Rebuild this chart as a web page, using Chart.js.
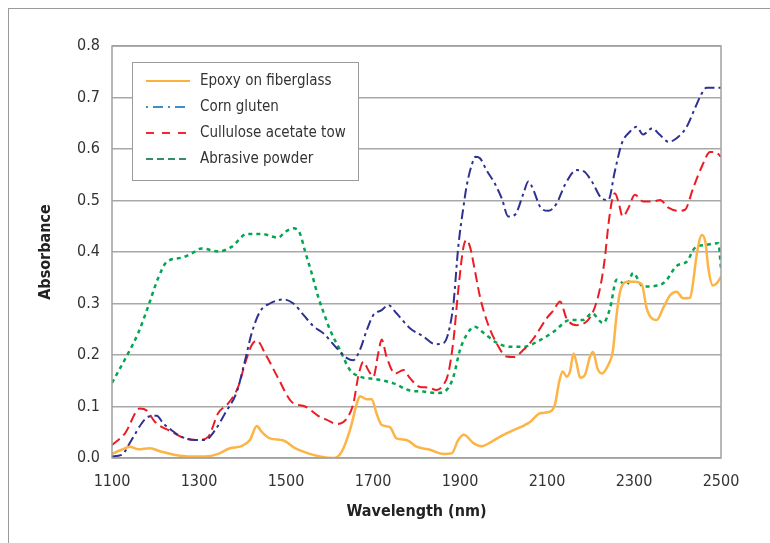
<!DOCTYPE html>
<html>
<head>
<meta charset="utf-8">
<script src="https://cdn.jsdelivr.net/npm/chart.js@4.4.1/dist/chart.umd.min.js"></script>
<style>
  body { margin: 0; background: #fff; }
  #wrap { position: relative; width: 770px; height: 543px; }
  #frame { position: absolute; left: 8px; top: 8px; right: 0; bottom: 0;
           border-left: 1px solid #9a9a9a; border-top: 1px solid #9a9a9a; }
  canvas { position: absolute; left: 0; top: 0; }
</style>
</head>
<body>
<div id="wrap">
  <div id="frame"></div>
  <canvas id="spectra" width="770" height="543"></canvas>
</div>
<script>
// Datos (nm / absorbancia)
const seriesNames = ['Epoxy on fiberglass', 'Corn gluten', 'Cullulose acetate tow', 'Abrasive powder'];
const xTicks = [1100, 1300, 1500, 1700, 1900, 2100, 2300, 2500];
const yTicks = [0.0, 0.1, 0.2, 0.3, 0.4, 0.5, 0.6, 0.7, 0.8];

const epoxyNm = [1100,1122,1141,1160,1187,1214,1245,1275,1314,1344,1371,1398,1417,1433,1444,1463,1494,1521,1551,1578,
  1609,1628,1647,1663,1670,1686,1697,1708,1720,1739,1754,1777,1800,1831,1862,1881,1896,1909,1931,1950,
  1973,2000,2023,2049,2061,2084,2107,2118,2128,2136,2145,2153,2161,2168,2176,2187,2199,2206,2216,2226,
  2241,2251,2260,2268,2283,2302,2318,2329,2341,2352,2367,2383,2398,2413,2429,2436,2444,2456,2464,2471,
  2481,2490,2500];
const epoxyAbs = [0.008,0.016,0.022,0.017,0.019,0.012,0.006,0.003,0.003,0.008,0.019,0.023,0.035,0.062,0.051,0.038,0.034,0.019,0.009,0.003,
  0.0,0.012,0.054,0.106,0.120,0.114,0.114,0.087,0.064,0.060,0.038,0.035,0.022,0.016,0.008,0.009,0.035,0.045,0.029,0.023,
  0.032,0.045,0.054,0.064,0.070,0.087,0.090,0.103,0.148,0.168,0.158,0.168,0.203,0.184,0.156,0.161,0.197,0.206,0.174,0.164,
  0.181,0.206,0.278,0.323,0.342,0.342,0.337,0.291,0.271,0.268,0.291,0.316,0.323,0.310,0.311,0.342,0.394,0.433,0.420,0.368,
  0.335,0.339,0.352];

const cornNm = [1100,1122,1145,1168,1183,1203,1218,1237,1260,1291,1314,1337,1360,1387,1406,1421,1440,1463,1494,1517,
  1540,1563,1586,1617,1640,1655,1670,1686,1701,1720,1735,1754,1785,1816,1843,1862,1873,1885,1896,1908,
  1915,1927,1936,1946,1961,1980,1996,2011,2026,2046,2057,2069,2084,2103,2122,2141,2168,2184,2203,2226,
  2241,2256,2272,2291,2306,2321,2341,2360,2379,2398,2421,2440,2456,2467,2500];
const cornAbs = [0.003,0.006,0.035,0.067,0.080,0.082,0.067,0.054,0.041,0.035,0.035,0.054,0.087,0.129,0.190,0.242,0.284,0.300,0.308,0.300,
  0.278,0.256,0.242,0.213,0.194,0.190,0.210,0.249,0.278,0.287,0.297,0.281,0.252,0.236,0.221,0.223,0.242,0.300,0.410,0.488,
  0.527,0.569,0.585,0.582,0.559,0.533,0.504,0.469,0.472,0.514,0.537,0.520,0.488,0.480,0.494,0.530,0.559,0.557,0.537,0.504,
  0.501,0.557,0.611,0.634,0.643,0.628,0.640,0.627,0.614,0.621,0.643,0.679,0.708,0.719,0.719];

const celluloseNm = [1100,1130,1164,1180,1199,1237,1268,1298,1321,1344,1367,1390,1406,1421,1433,1452,1482,1513,1544,1574,
  1594,1617,1640,1655,1666,1678,1689,1701,1712,1720,1731,1751,1770,1785,1808,1827,1846,1862,1873,1885,
  1896,1908,1915,1923,1934,1946,1961,1984,2007,2023,2046,2069,2099,2115,2130,2145,2168,2191,2206,2222,
  2233,2241,2249,2256,2264,2274,2287,2302,2321,2344,2360,2379,2402,2417,2436,2456,2475,2487,2500];
const celluloseAbs = [0.025,0.048,0.096,0.092,0.070,0.051,0.038,0.035,0.041,0.087,0.106,0.138,0.184,0.219,0.228,0.203,0.155,0.109,0.100,0.082,
  0.074,0.066,0.077,0.106,0.158,0.187,0.171,0.158,0.203,0.230,0.197,0.164,0.171,0.155,0.138,0.137,0.132,0.142,0.164,0.229,
  0.326,0.410,0.423,0.410,0.365,0.313,0.268,0.223,0.197,0.196,0.210,0.232,0.271,0.287,0.304,0.271,0.258,0.265,0.284,0.330,
  0.388,0.452,0.498,0.514,0.498,0.469,0.485,0.511,0.498,0.498,0.501,0.486,0.480,0.482,0.524,0.566,0.594,0.594,0.585];

const abrasiveNm = [1100,1137,1160,1183,1206,1226,1260,1283,1306,1344,1375,1410,1444,1482,1498,1517,1532,1544,1559,1574,
  1590,1601,1624,1647,1670,1708,1747,1785,1816,1846,1869,1885,1900,1915,1934,1954,1984,2015,2046,2084,
  2115,2153,2184,2203,2229,2245,2260,2283,2298,2321,2360,2375,2398,2421,2440,2467,2494,2500];
const abrasiveAbs = [0.146,0.203,0.242,0.294,0.349,0.381,0.389,0.397,0.407,0.401,0.410,0.435,0.435,0.428,0.439,0.446,0.436,0.401,0.359,0.313,
  0.274,0.249,0.210,0.171,0.158,0.153,0.145,0.131,0.129,0.126,0.132,0.158,0.210,0.239,0.255,0.243,0.224,0.216,0.216,0.229,
  0.245,0.268,0.268,0.281,0.262,0.291,0.346,0.336,0.359,0.333,0.336,0.346,0.373,0.381,0.408,0.414,0.417,0.368];

const FONT = "'Liberation Sans Narrow', 'DejaVu Sans Condensed', Roboto, sans-serif";

function pairs(xs, ys) {
  return xs.map((x, i) => ({ x: x, y: ys[i] }));
}

// Leyenda dibujada a mano dentro del área del gráfico, con su marco
const legendColors = ['#fbb040', '#3d8fc6', '#ee2a30', '#3a8a68'];
const legendDashes = [[], [2, 5, 10, 5], [8, 8], [7, 4]];

const boxLegend = {
  id: 'boxLegend',
  afterDraw(chart) {
    const ctx = chart.ctx;
    const x0 = 132, y0 = 62, w = 226, h = 118;
    ctx.save();
    ctx.fillStyle = '#fff';
    ctx.fillRect(x0, y0, w, h);
    ctx.strokeStyle = '#9a9a9a';
    ctx.lineWidth = 1;
    ctx.strokeRect(x0 + 0.5, y0 + 0.5, w, h);
    ctx.font = '15px ' + FONT;
    ctx.textBaseline = 'middle';
    chart.data.datasets.forEach((ds, i) => {
      const y = y0 + 19 + i * 26;
      ctx.beginPath();
      ctx.setLineDash(legendDashes[i]);
      ctx.strokeStyle = legendColors[i];
      ctx.lineWidth = 2;
      ctx.moveTo(146, y);
      ctx.lineTo(190, y);
      ctx.stroke();
      ctx.setLineDash([]);
      ctx.fillStyle = '#333';
      ctx.fillText(ds.label, 200, y);
    });
    ctx.restore();
  }
};

// Marco gris alrededor del área de trazado
const plotFrame = {
  id: 'plotFrame',
  afterDatasetsDraw(chart) {
    const a = chart.chartArea;
    const ctx = chart.ctx;
    ctx.save();
    ctx.strokeStyle = '#a0a0a0';
    ctx.lineWidth = 1.5;
    ctx.strokeRect(a.left, a.top, a.right - a.left, a.bottom - a.top);
    ctx.restore();
  }
};

const ctx = document.getElementById('spectra').getContext('2d');

new Chart(ctx, {
  type: 'line',
  data: {
    datasets: [
      {
        label: seriesNames[0],
        data: pairs(epoxyNm, epoxyAbs),
        borderColor: '#fdb447',
        borderWidth: 2.5
      },
      {
        label: seriesNames[1],
        data: pairs(cornNm, cornAbs),
        borderColor: '#2e3192',
        borderWidth: 2,
        borderDash: [10, 4, 3, 4]
      },
      {
        label: seriesNames[2],
        data: pairs(celluloseNm, celluloseAbs),
        borderColor: '#ed1c24',
        borderWidth: 2,
        borderDash: [10, 5]
      },
      {
        label: seriesNames[3],
        data: pairs(abrasiveNm, abrasiveAbs),
        borderColor: '#00a651',
        borderWidth: 2.5,
        borderDash: [4, 4]
      }
    ]
  },
  options: {
    responsive: false,
    animation: false,
    events: [],
    layout: { padding: { left: 0, right: 49, top: 46, bottom: 0 } },
    elements: {
      point: { radius: 0 },
      line: { cubicInterpolationMode: 'monotone', fill: false }
    },
    plugins: {
      legend: { display: false },
      tooltip: { enabled: false }
    },
    scales: {
      x: {
        type: 'linear',
        min: 1100,
        max: 2500,
        afterBuildTicks: (s) => { s.ticks = xTicks.map(v => ({ value: v })); },
        afterFit: (s) => { s.height = 85; },
        grid: { display: false, drawTicks: false },
        border: { display: false },
        ticks: {
          padding: 14,
          color: '#333',
          font: { family: FONT, size: 16 },
          maxRotation: 0,
          callback: (v) => String(v)
        },
        title: {
          display: true,
          text: 'Wavelength (nm)',
          color: '#222',
          font: { family: FONT, size: 16, weight: 'bold' },
          padding: { top: 0, bottom: 22 }
        }
      },
      y: {
        min: 0,
        max: 0.8,
        afterBuildTicks: (s) => { s.ticks = yTicks.map(v => ({ value: v })); },
        afterFit: (s) => { s.width = 112; },
        grid: { color: '#a8a8a8', lineWidth: 1.5, drawTicks: false },
        border: { display: false },
        ticks: {
          padding: 12,
          color: '#333',
          font: { family: FONT, size: 16 },
          callback: (v) => v.toFixed(1)
        },
        title: {
          display: true,
          text: 'Absorbance',
          color: '#222',
          font: { family: FONT, size: 16, weight: 'bold' },
          padding: { top: 36, bottom: 0 }
        }
      }
    }
  },
  plugins: [plotFrame, boxLegend]
});
</script>
</body>
</html>
